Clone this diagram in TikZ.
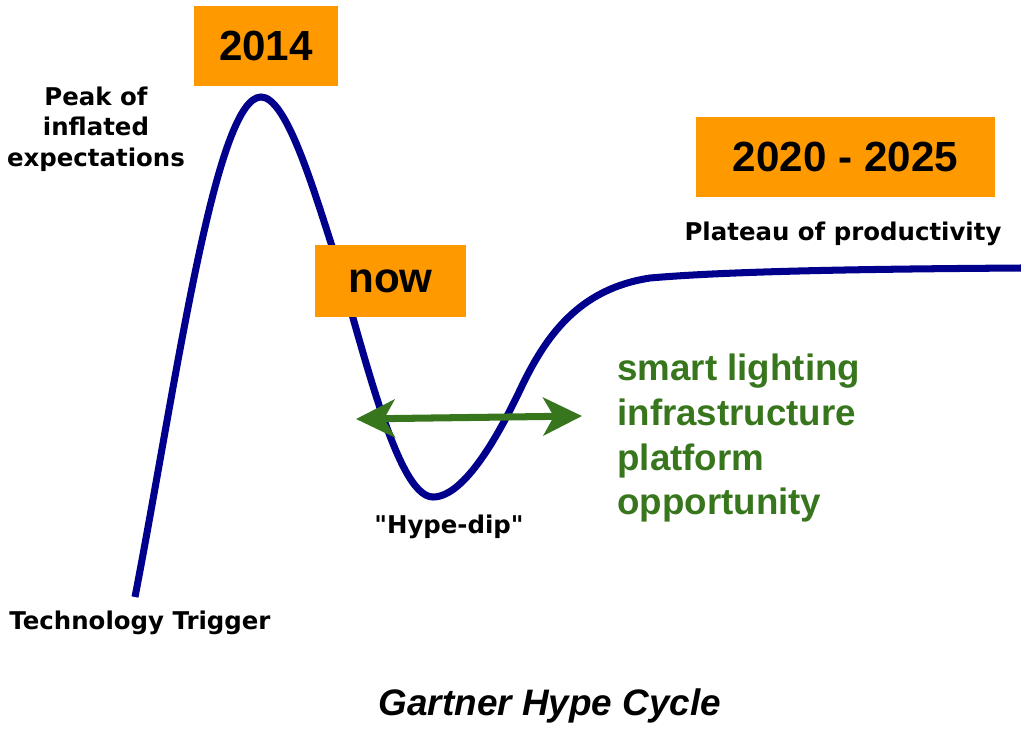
\documentclass[tikz,border=0pt]{standalone}
\usepackage{fontspec}
\setmainfont{Liberation Sans}
\newfontfamily\phasefont{DejaVu Sans}
\usetikzlibrary{arrows.meta, positioning}
\definecolor{hypeblue}{RGB}{0, 0, 140}
\definecolor{yearorange}{RGB}{255, 153, 0}
\definecolor{oppgreen}{RGB}{56, 118, 29}
\tikzset{
    year box/.style={
        rectangle,
        fill=yearorange,
        inner sep=0pt,
        text=black,
        font=\bfseries\fontsize{24}{28}\selectfont
    },
    phase label/.style={
        inner sep=0pt,
        align=center,
        text=black,
        font=\phasefont\bfseries\fontsize{13.9}{17.3}\selectfont
    },
    hype curve/.style={
        draw=hypeblue,
        line width=4pt
    },
    dip arrow/.style={
        {Stealth[length=22pt, width=21.5pt, inset=6pt]}-{Stealth[length=22pt, width=21.5pt, inset=6pt]},
        draw=oppgreen,
        line width=4pt
    }
}

\begin{document}
\begin{tikzpicture}[x=0.02cm, y=-0.02cm]

\useasboundingbox (0, 0) rectangle (1021, 731);

% Hype curve
\draw[hype curve] (135, 597)
    .. controls (175, 390) and (215, 97) .. (261, 97)
    .. controls (285, 97) and (310, 178) .. (330, 240)
    .. controls (360, 333) and (395, 497) .. (433, 497)
    .. controls (465, 497) and (500, 432) .. (520, 390)
    .. controls (545, 337) and (578, 289) .. (650, 278)
    .. controls (730, 271) and (870, 269) .. (1021, 268);

% Year boxes
\node[year box, minimum width=2.88cm, minimum height=1.6cm] (peakyear) at (266, 46) {2014};
\node[year box, minimum width=3.02cm, minimum height=1.44cm] (nowyear) at (390.5, 281) {now};
\node[year box, minimum width=5.98cm, minimum height=1.6cm] (plateauyear) at (845.5, 157) {2020 - 2025};

% Phase labels
\node[phase label] (peak) at (96, 129) {Peak of\\inflated\\expectations};
\node[phase label, anchor=base] (trigger) at (140, 629) {Technology Trigger};
\node[phase label, anchor=base] (dip) at (449, 533) {"Hype-dip"};
\node[phase label, anchor=base] (plateau) at (843, 240) {Plateau of productivity};

% Opportunity arrow
\coordinate (dipleft) at (356, 419);
\coordinate (dipright) at (582, 416);
\draw[dip arrow] (dipleft) -- (dipright);

\node[anchor=north west, inner sep=0pt, align=left, text=oppgreen,
      font=\bfseries\fontsize{20.9}{25.4}\selectfont]
     (opportunity) at (617, 354) {smart lighting\\infrastructure\\platform\\opportunity};

% Title
\node[anchor=base, inner sep=0pt, font=\bfseries\itshape\fontsize{21}{25}\selectfont]
     (title) at (550, 715) {Gartner Hype Cycle};

\end{tikzpicture}
\end{document}
